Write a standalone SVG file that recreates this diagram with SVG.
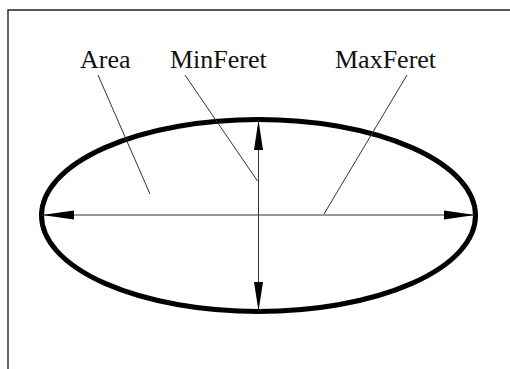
<svg xmlns="http://www.w3.org/2000/svg" width="510" height="369" viewBox="0 0 510 369">
<defs>
<style>
.frame{stroke:#222;stroke-width:1.4;fill:none}
.axis{stroke:#333;stroke-width:1}
.leader{stroke:#333;stroke-width:1;fill:none}
.lbl{font-family:"Liberation Serif","Times New Roman",serif;font-size:26px;fill:#111}
.head{fill:#000}
</style>
</defs>
<rect width="510" height="369" fill="#fff"/>
<path class="frame" d="M8,369 V10 H510"/>
<g id="ellipse">
<ellipse cx="258.5" cy="215.5" rx="217" ry="96" fill="none" stroke="#000" stroke-width="5"/>
</g>
<g id="connectors">
<line class="axis" x1="42" y1="215" x2="475" y2="215"/>
<line class="axis" x1="258.5" y1="120" x2="258.5" y2="311"/>
<polygon class="head" points="42,215 74,210.5 74,219.5"/>
<polygon class="head" points="475,215 444,210.5 444,219.5"/>
<polygon class="head" points="258.5,120 254,150 263,150"/>
<polygon class="head" points="258.5,311 254,282 263,282"/>
<line class="leader" x1="98" y1="75" x2="150" y2="194"/>
<line class="leader" x1="185" y1="75" x2="257.5" y2="181"/>
<line class="leader" x1="407" y1="75" x2="324" y2="214"/>
</g>
<g id="label-area"><text class="lbl" x="80" y="68">Area</text></g>
<g id="label-minferet"><text class="lbl" x="170" y="68">MinFeret</text></g>
<g id="label-maxferet"><text class="lbl" x="335" y="68">MaxFeret</text></g>
</svg>
